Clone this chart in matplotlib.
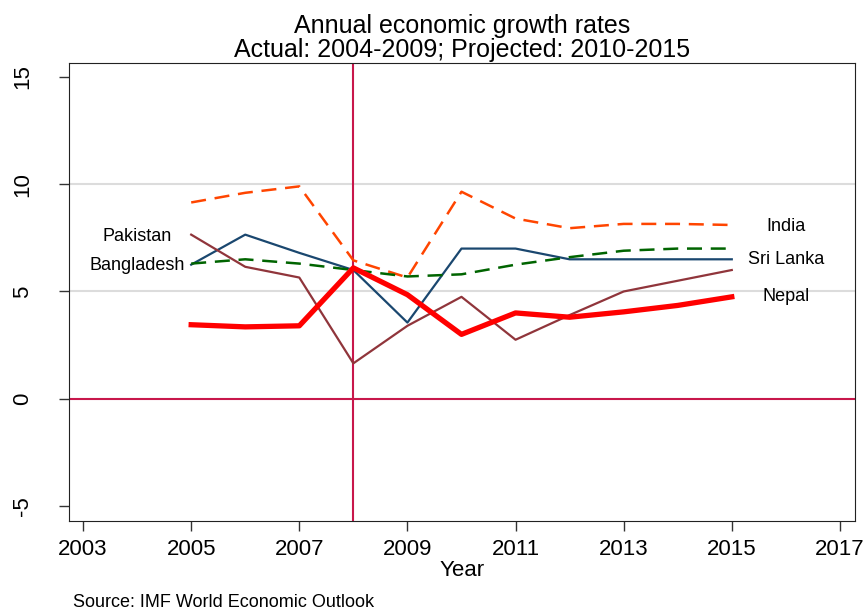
import matplotlib
matplotlib.use("Agg")
import matplotlib.pyplot as plt

plt.rcParams['font.family'] = ['Liberation Sans', 'DejaVu Sans']
plt.rcParams['axes.unicode_minus'] = False

# growth rates (%), actual 2004-2009, projected 2010-2015
years = [2005, 2006, 2007, 2008, 2009, 2010, 2011, 2012, 2013, 2014, 2015]
india = [9.15, 9.6, 9.9, 6.45, 5.65, 9.65, 8.4, 7.95, 8.15, 8.15, 8.1]
sri_lanka = [6.25, 7.65, 6.8, 6.0, 3.55, 7.0, 7.0, 6.5, 6.5, 6.5, 6.5]
bangladesh = [6.3, 6.5, 6.3, 6.0, 5.7, 5.8, 6.25, 6.6, 6.9, 7.0, 7.0]
pakistan = [7.65, 6.15, 5.65, 1.65, 3.4, 4.75, 2.75, 3.9, 5.0, 5.5, 6.0]
nepal = [3.45, 3.35, 3.4, 6.1, 4.85, 3.0, 4.0, 3.8, 4.05, 4.35, 4.75]

xticks = [2003, 2005, 2007, 2009, 2011, 2013, 2015, 2017]
yticks = [-5, 0, 5, 10, 15]

fig = plt.figure(figsize=(8.67, 6.09), dpi=100)
ax = fig.add_axes([0.0796, 0.1445, 0.9066, 0.752])

# reference lines
for y in [5, 10]:
    ax.axhline(y, color='#dcdcdc', lw=1.5, zorder=0)
ax.axhline(0, color='#c8174b', lw=1.5, zorder=1)
ax.axvline(2008, color='#c8174b', lw=1.5, zorder=1)

ax.plot(years, india, color='#ff4500', lw=1.8, dashes=(6, 3.5))
ax.plot(years, sri_lanka, color='#1a476f', lw=1.6)
ax.plot(years, bangladesh, color='#006400', lw=1.8, dashes=(6, 3.5))
ax.plot(years, pakistan, color='#90353b', lw=1.6)
ax.plot(years, nepal, color='#ff0000', lw=3.8)

# line labels
lab = dict(fontsize=13, ha='center', va='center')
ax.text(2004.0, 7.55, 'Pakistan', **lab)
ax.text(2004.0, 6.2, 'Bangladesh', **lab)
ax.text(2016.0, 8.02, 'India', **lab)
ax.text(2016.0, 6.48, 'Sri Lanka', **lab)
ax.text(2016.0, 4.76, 'Nepal', **lab)

ax.set_xlim(2002.74, 2017.28)
ax.set_ylim(-5.7, 15.65)
ax.set_xticks(xticks)
ax.set_yticks(yticks)
ax.tick_params(axis='both', labelsize=16, length=7, width=1, color='#333333')
ax.tick_params(axis='x', pad=6)
ax.tick_params(axis='y', labelrotation=90, pad=19)
for t in ax.get_yticklabels():
    t.set_va('center')

ax.set_xlabel('Year', fontsize=16, labelpad=0)
ax.set_title('Annual economic growth rates\nActual: 2004-2009; Projected: 2010-2015',
             fontsize=18, linespacing=1.0, pad=4)
for s in ax.spines.values():
    s.set_color('#222222')

fig.text(0.084, 0.004, 'Source: IMF World Economic Outlook', fontsize=13)

fig.savefig('out.png', dpi=100)
